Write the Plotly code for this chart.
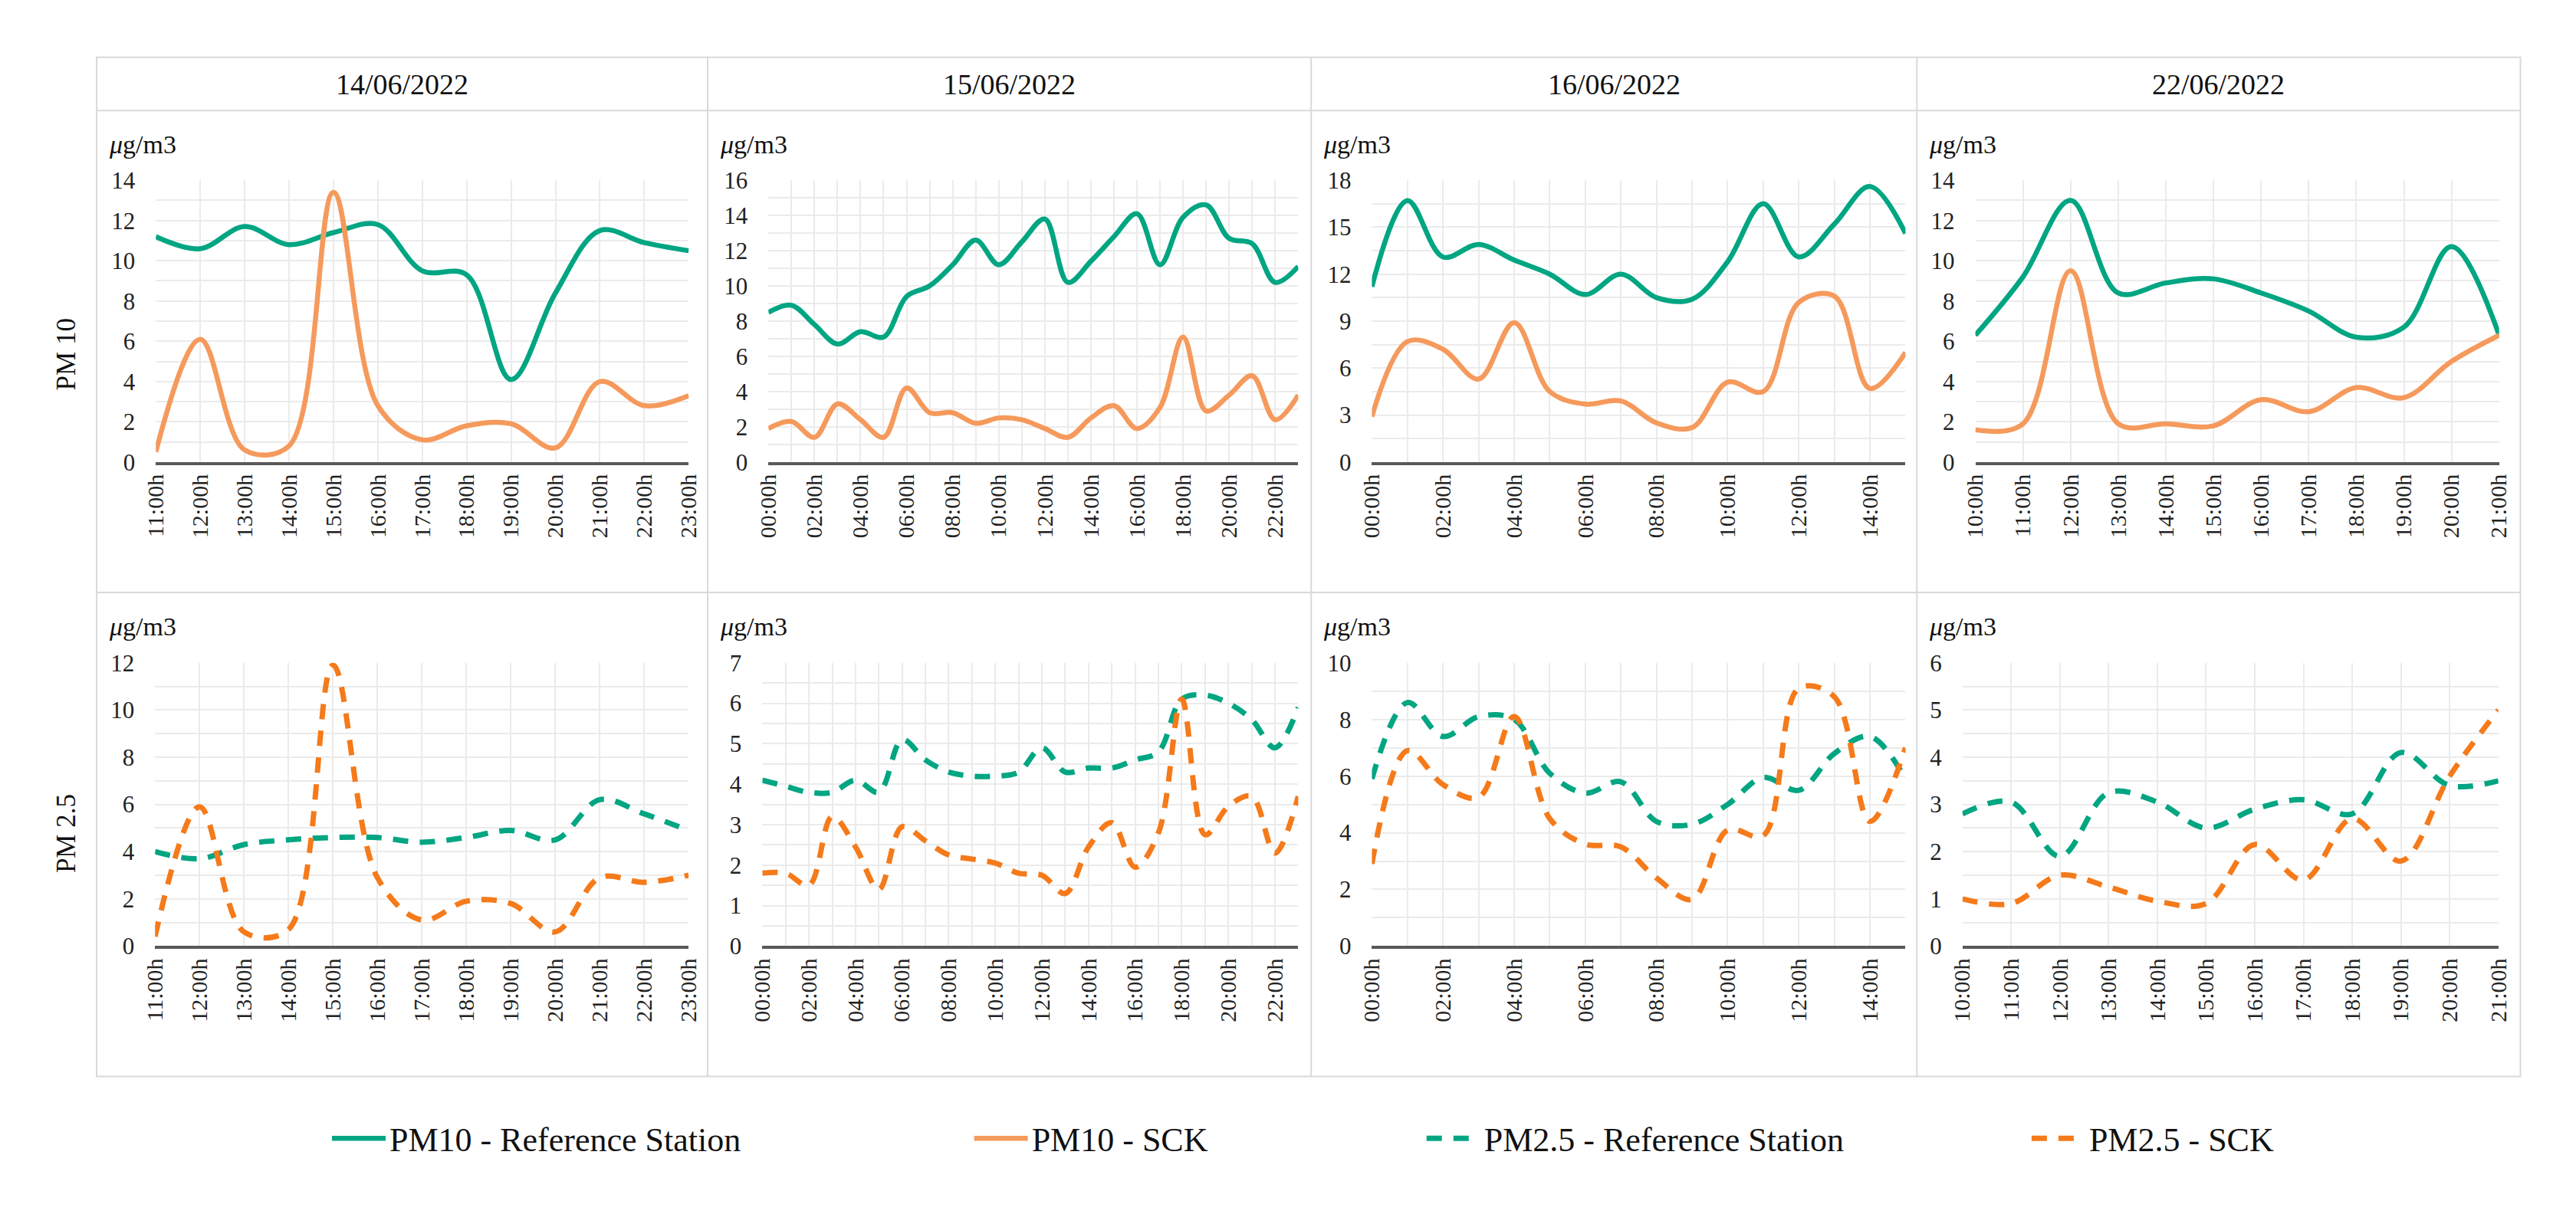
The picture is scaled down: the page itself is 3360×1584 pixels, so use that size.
import plotly.graph_objects as go
from plotly.subplots import make_subplots

# ---- data ----
dates = ["14/06/2022", "15/06/2022", "16/06/2022", "22/06/2022"]
series_names = ["PM10 - Reference Station", "PM10 - SCK",
                "PM2.5 - Reference Station", "PM2.5 - SCK"]

hours_1406 = ["11:00h", "12:00h", "13:00h", "14:00h", "15:00h", "16:00h", "17:00h",
              "18:00h", "19:00h", "20:00h", "21:00h", "22:00h", "23:00h"]
hours_1506 = ["00:00h", "01:00h", "02:00h", "03:00h", "04:00h", "05:00h", "06:00h",
              "07:00h", "08:00h", "09:00h", "10:00h", "11:00h", "12:00h", "13:00h",
              "14:00h", "15:00h", "16:00h", "17:00h", "18:00h", "19:00h", "20:00h",
              "21:00h", "22:00h", "23:00h"]
hours_1606 = ["00:00h", "01:00h", "02:00h", "03:00h", "04:00h", "05:00h", "06:00h",
              "07:00h", "08:00h", "09:00h", "10:00h", "11:00h", "12:00h", "13:00h",
              "14:00h", "15:00h"]
hours_2206 = ["10:00h", "11:00h", "12:00h", "13:00h", "14:00h", "15:00h", "16:00h",
              "17:00h", "18:00h", "19:00h", "20:00h", "21:00h"]

# labelled ticks (15/06 and 16/06 only show every second hour)
ticks_1406 = hours_1406
ticks_1506 = ["00:00h", "02:00h", "04:00h", "06:00h", "08:00h", "10:00h",
              "12:00h", "14:00h", "16:00h", "18:00h", "20:00h", "22:00h"]
ticks_1606 = ["00:00h", "02:00h", "04:00h", "06:00h", "08:00h", "10:00h",
              "12:00h", "14:00h"]
ticks_2206 = hours_2206

pm10_ref_1406 = [11.2, 10.6, 11.7, 10.8, 11.4, 11.8, 9.5, 9.3, 4.1, 8.4, 11.5, 10.9, 10.5]
pm10_sck_1406 = [0.5, 6.1, 0.6, 0.8, 13.4, 2.8, 1.1, 1.8, 1.9, 0.7, 4.0, 2.8, 3.3]
pm25_ref_1406 = [4.0, 3.7, 4.3, 4.5, 4.6, 4.6, 4.4, 4.6, 4.9, 4.5, 6.2, 5.6, 4.9]
pm25_sck_1406 = [0.4, 5.9, 0.6, 0.7, 11.9, 2.9, 1.1, 1.9, 1.8, 0.6, 2.9, 2.7, 3.0]

pm10_ref_1506 = [8.5, 8.9, 7.8, 6.7, 7.4, 7.1, 9.4, 10.0, 11.2, 12.6, 11.2, 12.5,
                 13.8, 10.2, 11.4, 12.8, 14.1, 11.2, 13.9, 14.6, 12.7, 12.4, 10.2, 11.1]
pm10_sck_1506 = [1.9, 2.3, 1.4, 3.3, 2.4, 1.4, 4.2, 2.8, 2.8, 2.2, 2.5, 2.4,
                 1.9, 1.4, 2.5, 3.2, 1.9, 3.1, 7.1, 2.9, 3.8, 4.9, 2.4, 3.8]
pm25_ref_1506 = [4.1, 3.95, 3.8, 3.8, 4.1, 3.8, 5.1, 4.6, 4.3, 4.2, 4.2, 4.3,
                 4.9, 4.3, 4.4, 4.4, 4.6, 4.8, 6.1, 6.2, 6.0, 5.6, 4.9, 5.9]
pm25_sck_1506 = [1.8, 1.8, 1.5, 3.2, 2.45, 1.4, 2.95, 2.6, 2.25, 2.15, 2.05, 1.8,
                 1.75, 1.3, 2.45, 3.05, 1.95, 2.8, 6.1, 2.75, 3.45, 3.7, 2.3, 3.7]

pm10_ref_1606 = [11.2, 16.7, 13.1, 13.9, 12.9, 12.0, 10.7, 12.0, 10.5, 10.4, 12.8, 16.5,
                 13.1, 15.2, 17.6, 14.6]
pm10_sck_1606 = [2.9, 7.7, 7.2, 5.3, 8.9, 4.5, 3.7, 3.9, 2.5, 2.2, 5.1, 4.5,
                 10.2, 10.6, 4.7, 7.0]
pm25_ref_1606 = [5.9, 8.6, 7.4, 8.1, 8.0, 6.1, 5.4, 5.8, 4.4, 4.3, 5.0, 5.95,
                 5.5, 6.8, 7.4, 5.9]
pm25_sck_1606 = [2.9, 6.9, 5.7, 5.25, 8.1, 4.5, 3.6, 3.5, 2.4, 1.65, 4.1, 3.9,
                 9.1, 8.8, 4.4, 7.0]

pm10_ref_2206 = [6.3, 9.2, 13.0, 8.4, 8.9, 9.1, 8.4, 7.5, 6.2, 6.7, 10.7, 6.3]
pm10_sck_2206 = [1.6, 1.9, 9.5, 1.9, 1.9, 1.8, 3.1, 2.5, 3.7, 3.2, 5.0, 6.3]
pm25_ref_2206 = [2.8, 3.05, 1.9, 3.25, 3.05, 2.5, 2.9, 3.1, 2.8, 4.1, 3.4, 3.5]
pm25_sck_2206 = [1.0, 0.9, 1.5, 1.25, 0.95, 0.9, 2.15, 1.4, 2.7, 1.8, 3.6, 5.0]

panels = [
    (hours_1406, ticks_1406, [pm10_ref_1406, pm10_sck_1406, pm25_ref_1406, pm25_sck_1406]),
    (hours_1506, ticks_1506, [pm10_ref_1506, pm10_sck_1506, pm25_ref_1506, pm25_sck_1506]),
    (hours_1606, ticks_1606, [pm10_ref_1606, pm10_sck_1606, pm25_ref_1606, pm25_sck_1606]),
    (hours_2206, ticks_2206, [pm10_ref_2206, pm10_sck_2206, pm25_ref_2206, pm25_sck_2206]),
]

# axis scales per panel (max, major step, minor step)
top_axes = [(14, 2, 1), (16, 2, 1), (18, 3, 1.5), (14, 2, 1)]
bottom_axes = [(12, 2, 1), (7, 1, 0.5), (10, 2, 1), (6, 1, 0.5)]

# ---- styling ----
# page body keeps its 8px margin, so the figure is sized to fill the window exactly
OFF = 8
W, H = 3360 - 2 * OFF, 1584 - 2 * OFF
FONT = "Liberation Serif"
GREEN = "#00A582"
ORANGE_LIGHT = "#F59A5C"
ORANGE = "#F57A1A"
GRID = "#EBEBEB"
BORDER = "#D9D9D9"
TXT = "#111111"
styles = [
    dict(color=GREEN, width=6.5),
    dict(color=ORANGE_LIGHT, width=6.5),
    dict(color=GREEN, width=7, dash="20px,15px"),
    dict(color=ORANGE, width=7, dash="20px,15px"),
]
legend_ids = ["legend", "legend2", "legend3", "legend4"]


def fx(p):
    return (p - OFF) / W


def fy(p):
    return 1 - (p - OFF) / H


col_edges = [110, 915, 1710, 2508, 3303]
top_plot_x = [(188, 890), (995, 1693), (1790, 2493), (2585, 3275)]
bot_plot_x = [(187, 890), (987, 1693), (1790, 2493), (2568, 3274)]
row_plot_y = [(223, 599), (867, 1245)]

fig = make_subplots(rows=2, cols=4)

for c, (hours, ticks, vals) in enumerate(panels):
    for s in range(4):
        row = 1 if s < 2 else 2
        fig.add_trace(go.Scatter(
            x=hours, y=vals[s], name=series_names[s], mode="lines",
            line=dict(shape="spline", smoothing=1.0, **styles[s]),
            legend=legend_ids[s], showlegend=(c == 0),
        ), row=row, col=c + 1)

    ticktext = [h if h in ticks else "" for h in hours]
    for row, axes, xs in ((1, top_axes, top_plot_x), (2, bottom_axes, bot_plot_x)):
        ymax, major, minor = axes[c]
        y0, y1 = row_plot_y[row - 1]
        fig.update_xaxes(
            type="category", range=[0, len(hours) - 1],
            domain=[fx(xs[c][0]), fx(xs[c][1])],
            tickmode="array", tickvals=hours, ticktext=ticktext,
            tickangle=-90, ticks="", showgrid=True, gridcolor=GRID, gridwidth=2,
            showline=True, linecolor="#595959", linewidth=4,
            tickfont=dict(family=FONT, size=30, color="#222222"),
            row=row, col=c + 1)
        fig.update_yaxes(
            range=[0, ymax], dtick=major, tick0=0,
            domain=[fy(y1), fy(y0)],
            showgrid=True, gridcolor=GRID, gridwidth=2, zeroline=False,
            minor=dict(dtick=minor, showgrid=True, gridcolor=GRID, gridwidth=2),
            showline=False, ticks="", ticklabelstandoff=26,
            tickfont=dict(family=FONT, size=31, color="#222222"),
            row=row, col=c + 1)

# table frame
shapes = [dict(type="rect", xref="paper", yref="paper",
               x0=fx(col_edges[0]), x1=fx(col_edges[-1]), y0=fy(1419), y1=fy(59),
               line=dict(color=BORDER, width=2))]
for xe in col_edges[1:-1]:
    shapes.append(dict(type="line", xref="paper", yref="paper",
                       x0=fx(xe), x1=fx(xe), y0=fy(1419), y1=fy(59),
                       line=dict(color=BORDER, width=2)))
for ye in (130, 773):
    shapes.append(dict(type="line", xref="paper", yref="paper",
                       x0=fx(col_edges[0]), x1=fx(col_edges[-1]), y0=fy(ye), y1=fy(ye),
                       line=dict(color=BORDER, width=2)))

annotations = []
for c, d in enumerate(dates):
    annotations.append(dict(text=d, xref="paper", yref="paper",
                            x=fx((col_edges[c] + col_edges[c + 1]) / 2), y=fy(95),
                            xanchor="center", yanchor="middle", showarrow=False,
                            font=dict(family=FONT, size=38, color=TXT)))
    for yl in (175, 819):
        annotations.append(dict(text="<i>μ</i>g/m3", xref="paper", yref="paper",
                                x=fx(col_edges[c] + 14), y=fy(yl),
                                xanchor="left", yanchor="middle", showarrow=False,
                                font=dict(family=FONT, size=34, color=TXT)))
for label, yl in (("PM 10", 455), ("PM 2.5", 1095)):
    annotations.append(dict(text=label, xref="paper", yref="paper", x=fx(70), y=fy(yl),
                            xanchor="center", yanchor="middle", textangle=-90,
                            showarrow=False, font=dict(family=FONT, size=35, color=TXT)))

legend_x = [415, 1261, 1857, 2654]
legend_common = dict(orientation="h", yanchor="middle", xanchor="left", y=fy(1502),
                     itemwidth=70, bgcolor="rgba(0,0,0,0)",
                     font=dict(family=FONT, size=44, color=TXT))

fig.update_layout(
    width=W, height=H, autosize=False,
    margin=dict(l=0, r=0, t=0, b=0),
    paper_bgcolor="white", plot_bgcolor="white",
    shapes=shapes, annotations=annotations,
    legend=dict(x=fx(legend_x[0]), **legend_common),
    legend2=dict(x=fx(legend_x[1]), **legend_common),
    legend3=dict(x=fx(legend_x[2]), **legend_common),
    legend4=dict(x=fx(legend_x[3]), **legend_common),
)

fig.write_html("out.html")
